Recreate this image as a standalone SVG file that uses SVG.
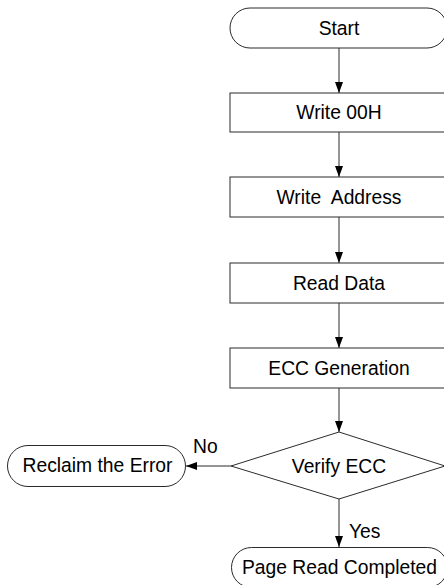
<svg xmlns="http://www.w3.org/2000/svg" width="444" height="585" viewBox="0 0 444 585">
<defs>
<marker id="ah" markerWidth="11" markerHeight="8" refX="11" refY="4" orient="auto" markerUnits="userSpaceOnUse">
<path d="M0,0 L11,4 L0,8 Z" fill="#000"/>
</marker>
<style>
.s{fill:#fff;stroke:#2a2a2a;stroke-width:1}
.t{font-family:"Liberation Sans",Arial,sans-serif;font-size:19.3px;fill:#000;text-anchor:middle;white-space:pre}
.l{font-family:"Liberation Sans",Arial,sans-serif;font-size:19.3px;fill:#000}
.c{stroke:#2a2a2a;stroke-width:1;fill:none;marker-end:url(#ah)}
</style>
</defs>
<rect width="444" height="585" fill="#fff"/>
<g id="connectors">
<line class="c" x1="339" y1="48" x2="339" y2="93"/>
<line class="c" x1="339" y1="132" x2="339" y2="177"/>
<line class="c" x1="339" y1="217" x2="339" y2="263"/>
<line class="c" x1="339" y1="303" x2="339" y2="348"/>
<line class="c" x1="339" y1="388" x2="339" y2="432"/>
<line class="c" x1="231" y1="466" x2="186" y2="466"/>
<line class="c" x1="339" y1="499" x2="339" y2="547"/>
<text class="l" x="193" y="453">No</text>
<text class="l" x="349" y="538">Yes</text>
</g>
<g id="start">
<rect class="s" x="230" y="8" width="217" height="40" rx="20" ry="20"/>
<text class="t" x="339" y="35">Start</text>
</g>
<g id="write00h">
<rect class="s" x="230" y="93" width="217" height="39"/>
<text class="t" x="339" y="119">Write 00H</text>
</g>
<g id="writeaddress">
<rect class="s" x="230" y="177" width="217" height="40"/>
<text class="t" x="339" y="204">Write  Address</text>
</g>
<g id="readdata">
<rect class="s" x="230" y="263" width="217" height="40"/>
<text class="t" x="339" y="290">Read Data</text>
</g>
<g id="eccgen">
<rect class="s" x="230" y="348" width="217" height="40"/>
<text class="t" x="339" y="375">ECC Generation</text>
</g>
<g id="verify">
<polygon class="s" points="339,432 445,466 339,499 231,466"/>
<text class="t" x="339" y="473">Verify ECC</text>
</g>
<g id="reclaim">
<rect class="s" x="7.5" y="445.5" width="178" height="41" rx="20.5" ry="20.5"/>
<text class="t" x="97.5" y="472">Reclaim the Error</text>
</g>
<g id="completed">
<rect class="s" x="231.5" y="547.5" width="216" height="40" rx="20" ry="20"/>
<text class="t" x="339.5" y="574">Page Read Completed</text>
</g>
</svg>
